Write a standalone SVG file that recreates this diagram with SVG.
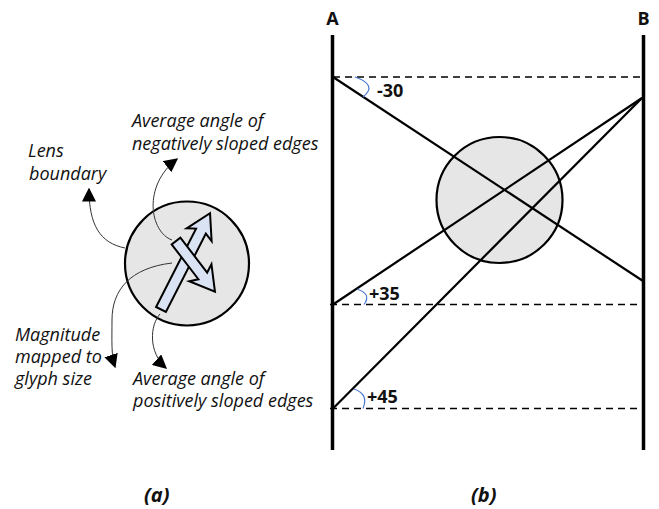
<svg xmlns="http://www.w3.org/2000/svg" width="659" height="509" viewBox="0 0 659 509">
<style>
.lbl{font-family:"Open Sans","Noto Sans",sans-serif;font-style:italic;font-size:18px;fill:#111}
.ang{font-family:"Open Sans","Noto Sans",sans-serif;font-weight:bold;font-size:18px;fill:#111}
.cap{font-family:"Open Sans","Noto Sans",sans-serif;font-weight:bold;font-style:italic;font-size:20px;fill:#111}
.ab{font-family:"Open Sans","Noto Sans",sans-serif;font-weight:bold;font-size:18px;fill:#111}
.call{fill:none;stroke:#333;stroke-width:1}
.glyph{fill:#dae3f3;stroke:#000;stroke-width:2;stroke-linejoin:miter}
.vline{stroke:#000;stroke-width:3.5}
.edge{stroke:#000;stroke-width:2.2}
.dash{stroke:#000;stroke-width:1.5;stroke-dasharray:7,5}
.arc{fill:none;stroke:#4a78d0;stroke-width:1.2}
.lens{fill:#e6e6e6;stroke:#000;stroke-width:2.2}
</style>
<defs>
<marker id="tri" viewBox="0 0 10 10" refX="9" refY="5" markerWidth="14" markerHeight="14" markerUnits="userSpaceOnUse" orient="auto">
<path d="M0,0 L10,5 L0,10 z" fill="#000"/>
</marker>
</defs>

<!-- Panel (a) -->
<g id="lens-a">
<circle class="lens" cx="187" cy="263.5" r="62"/>
</g>
<g id="glyph">
<path class="glyph" transform="translate(161,309.5) rotate(-63)" d="M0,-5.5 L88,-5.5 L84,-14 L108,0 L84,14 L88,5.5 L0,5.5 Z"/>
<path class="glyph" transform="translate(176,241) rotate(52.5)" d="M0,-5.5 L44,-5.5 L40,-14 L64,0 L40,14 L44,5.5 L0,5.5 Z"/>
</g>
<g id="connectors-a">
<path class="call" d="M125,248 C100,243 89,225 89,189" marker-end="url(#tri)"/>
<path class="call" d="M172,240 C150,232 142,186 177,159" marker-end="url(#tri)"/>
<path class="call" d="M172,263 C130,268 112,290 112,320 C112,340 111,355 115,367" marker-end="url(#tri)"/>
<path class="call" d="M160,314 C150,325 148,352 166,368" marker-end="url(#tri)"/>
</g>
<g id="label-lens">
<text class="lbl" x="28" y="157">Lens</text>
<text class="lbl" x="29" y="180">boundary</text>
</g>
<g id="label-neg">
<text class="lbl" x="132" y="127">Average angle of</text>
<text class="lbl" x="132" y="150">negatively sloped edges</text>
</g>
<g id="label-mag">
<text class="lbl" x="15" y="341">Magnitude</text>
<text class="lbl" x="15" y="363">mapped to</text>
<text class="lbl" x="15" y="385">glyph size</text>
</g>
<g id="label-pos">
<text class="lbl" x="133" y="385">Average angle of</text>
<text class="lbl" x="133" y="407">positively sloped edges</text>
</g>
<text class="cap" x="144" y="502">(a)</text>

<!-- Panel (b) -->
<g id="axis-A">
<line class="vline" x1="332.5" y1="35" x2="332.5" y2="450"/>
<text class="ab" x="332.5" y="25" text-anchor="middle">A</text>
</g>
<g id="axis-B">
<line class="vline" x1="643.5" y1="35" x2="643.5" y2="450"/>
<text class="ab" x="643.5" y="25" text-anchor="middle">B</text>
</g>
<g id="lens-b">
<circle class="lens" cx="499.5" cy="200" r="63"/>
</g>
<g id="connectors-b">
<line class="dash" x1="333" y1="77" x2="642" y2="77"/>
<line class="dash" x1="330" y1="304.5" x2="642" y2="304.5"/>
<line class="dash" x1="330" y1="408.5" x2="642" y2="408.5"/>
<line class="edge" x1="333" y1="77" x2="643" y2="281"/>
<line class="edge" x1="642" y1="98" x2="333" y2="304.5"/>
<line class="edge" x1="642" y1="98" x2="333" y2="408.5"/>
<path class="arc" d="M355,77 Q378,85 363,97"/>
<path class="arc" d="M357,289 Q372,294 364,304.5"/>
<path class="arc" d="M354,389 Q369,394 363,408.5"/>
</g>
<g id="angle-labels">
<text class="ang" x="377" y="97">-30</text>
<text class="ang" x="369" y="300">+35</text>
<text class="ang" x="367" y="403">+45</text>
</g>
<text class="cap" x="471" y="502">(b)</text>
</svg>
